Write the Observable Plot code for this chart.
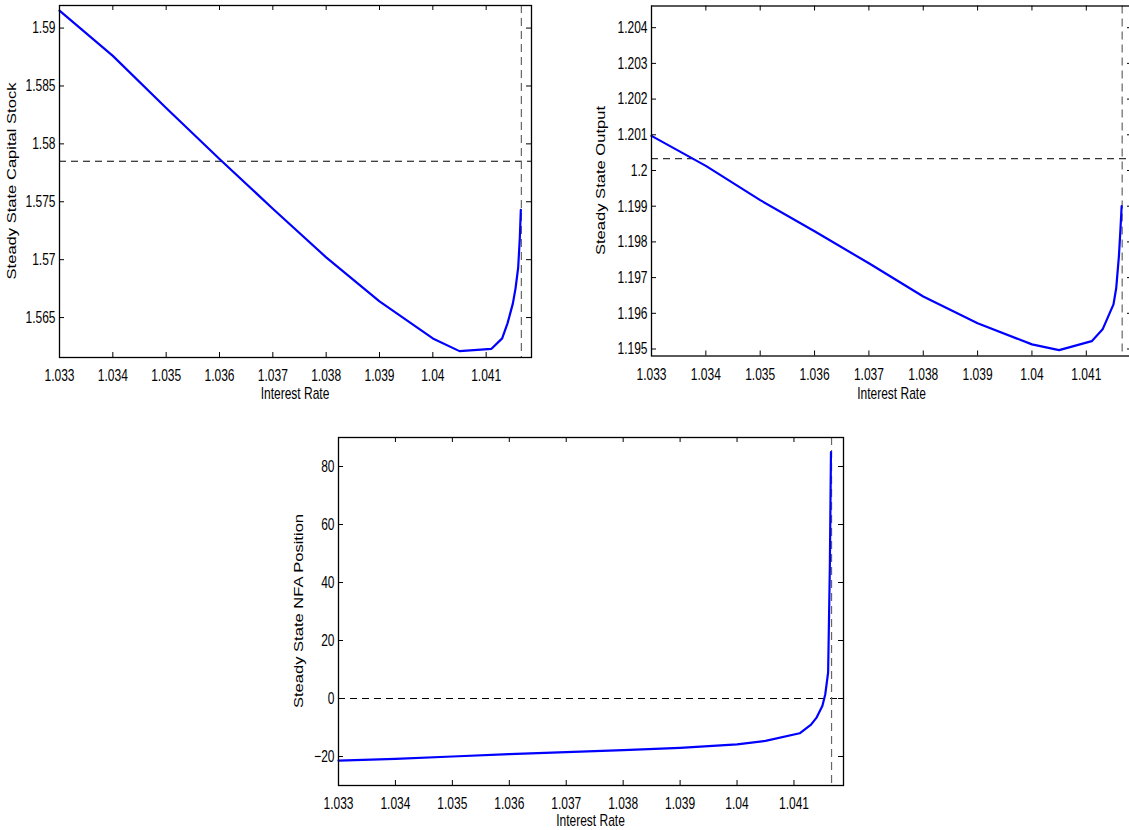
<!DOCTYPE html>
<html>
<head>
<meta charset="utf-8">
<script src="https://cdn.jsdelivr.net/npm/d3@7"></script>
<script src="https://cdn.jsdelivr.net/npm/@observablehq/plot@0.6"></script>
<style>
html, body { margin: 0; padding: 0; background: #fff; overflow: hidden; }
#fig { position: relative; width: 1129px; height: 830px; overflow: hidden; background: #fff; }
#fig svg { position: absolute; }
</style>
</head>
<body>
<div id="fig"></div>
<script>
// ---- data ----
const rates   = [1.033, 1.034, 1.035, 1.036, 1.037, 1.038, 1.039, 1.040, 1.0405, 1.0411, 1.0413, 1.0414, 1.0415, 1.04155, 1.0416, 1.04163, 1.04165];
const capital = [1.5915, 1.5876, 1.5831, 1.5787, 1.5744, 1.5702, 1.5664, 1.5632, 1.5621, 1.5623, 1.5632, 1.5645, 1.5662, 1.5675, 1.5693, 1.5718, 1.5743];
const output  = [1.20097, 1.20013, 1.19917, 1.19830, 1.19740, 1.19647, 1.19572, 1.19513, 1.19497, 1.19522, 1.19555, 1.19590, 1.19625, 1.19670, 1.19760, 1.19840, 1.19900];
const nfa     = [-21.4, -20.8, -20.0, -19.2, -18.5, -17.8, -17.0, -15.8, -14.6, -12.0, -9.0, -6.5, -2.5, 1.5, 9.0, 45, 85];

const capitalRef = 1.5785;   // horizontal dashed reference
const outputRef  = 1.20033;
const nfaRef     = 0;
const rateLimit  = 1.04166;  // vertical dashed reference

const xTicks      = [1.033, 1.034, 1.035, 1.036, 1.037, 1.038, 1.039, 1.040, 1.041];
const xTickLabels = ["1.033", "1.034", "1.035", "1.036", "1.037", "1.038", "1.039", "1.04", "1.041"];
const capTicks      = [1.565, 1.570, 1.575, 1.580, 1.585, 1.590];
const capTickLabels = ["1.565", "1.57", "1.575", "1.58", "1.585", "1.59"];
const outTicks      = [1.195, 1.196, 1.197, 1.198, 1.199, 1.200, 1.201, 1.202, 1.203, 1.204];
const outTickLabels = ["1.195", "1.196", "1.197", "1.198", "1.199", "1.2", "1.201", "1.202", "1.203", "1.204"];
const nfaTicks      = [-20, 0, 20, 40, 60, 80];
const nfaTickLabels = ["\u221220", "0", "20", "40", "60", "80"];

const xLabel = "Interest Rate";
const capLabel = "Steady State Capital Stock";
const outLabel = "Steady State Output";
const nfaLabel = "Steady State NFA Position";

const FONT = "'Liberation Sans', Arial, Helvetica, sans-serif";
const STRETCH = 1.38;
const fig = document.getElementById("fig");

function panel(o) {
  const data = rates.map((r, i) => ({r, v: o.values[i]}));
  const innerW = o.width - o.ml - o.mr;
  const innerH = o.height - o.mt - o.mb;
  const T = 5;
  const xfmt = d => xTickLabels[xTicks.indexOf(d)];
  const yfmt = d => o.yLabels[o.yTicks.indexOf(d)];
  const svg = Plot.plot({
    width: o.width, height: o.height,
    marginTop: o.mt, marginRight: o.mr, marginBottom: o.mb, marginLeft: o.ml,
    style: {fontFamily: FONT, fontSize: "12px", color: "#000", background: "transparent", overflow: "visible"},
    x: {domain: o.xDomain, nice: false},
    y: {domain: o.yDomain, nice: false},
    marks: [
      Plot.ruleY([o.ref], {stroke: "#000", strokeWidth: 1, strokeDasharray: "7,5"}),
      Plot.ruleX([rateLimit], {stroke: "#666", strokeWidth: 1.2, strokeDasharray: "8,5"}),
      Plot.lineY(data, {x: "r", y: "v", stroke: "#0000ff", strokeWidth: 2.2}),
      Plot.tickX(xTicks, {x: d => d, insetTop: innerH - T, stroke: "#000"}),
      Plot.tickX(xTicks, {x: d => d, insetBottom: innerH - T, stroke: "#000"}),
      Plot.tickY(o.yTicks, {y: d => d, insetRight: innerW - T, stroke: "#000"}),
      Plot.tickY(o.yTicks, {y: d => d, insetLeft: innerW - T, stroke: "#000"}),
      Plot.axisX({ticks: xTicks, tickFormat: xfmt, tickSize: 0, tickPadding: 12, anchor: "bottom", label: null}),
      Plot.axisY({ticks: o.yTicks, tickFormat: yfmt, tickSize: 0, tickPadding: 4, anchor: "left", label: null}),
      Plot.frame({stroke: "#000", strokeWidth: 1.3})
    ]
  });
  svg.style.left = o.left + "px";
  svg.style.top = o.top + "px";
  const s = d3.select(svg);
  // the reference's text is stretched vertically; reproduce that on the tick labels
  s.selectAll('g[aria-label="x-axis tick label"] text, g[aria-label="y-axis tick label"] text').each(function() {
    const t = d3.select(this);
    let tr = t.attr("transform");
    if (!tr) {
      const x = +t.attr("x") || 0, y = +t.attr("y") || 0;
      tr = `translate(${x},${y})`;
      t.attr("x", null).attr("y", null);
    }
    t.attr("transform", tr + ` scale(1,${STRETCH})`);
  });
  const cx = o.ml + innerW / 2;
  s.append("text")
    .attr("transform", `translate(${cx},${o.xLabelY}) scale(1,${STRETCH})`)
    .attr("text-anchor", "middle")
    .attr("font-family", FONT).attr("font-size", "12px").attr("fill", "#000")
    .text(xLabel);
  const cy = o.mt + innerH / 2;
  s.append("text")
    .attr("transform", `translate(${o.yLabelX},${cy}) scale(1,${STRETCH}) rotate(-90)`)
    .attr("text-anchor", "middle")
    .attr("font-family", FONT).attr("font-size", "12px").attr("fill", "#000")
    .text(o.ylabel);
  fig.appendChild(svg);
}

panel({
  values: capital, ref: capitalRef, ylabel: capLabel,
  yTicks: capTicks, yLabels: capTickLabels,
  xDomain: [1.033, 1.04185], yDomain: [1.56155, 1.59195],
  left: 0, top: 0, width: 560, height: 410, mt: 5, mb: 53, ml: 59, mr: 29,
  xLabelY: 399, yLabelX: 16
});
panel({
  values: output, ref: outputRef, ylabel: outLabel,
  yTicks: outTicks, yLabels: outTickLabels,
  xDomain: [1.033, 1.04185], yDomain: [1.194804, 1.204607],
  left: 570, top: 0, width: 570, height: 410, mt: 5.5, mb: 54.5, ml: 81, mr: 8,
  xLabelY: 399, yLabelX: 35
});
panel({
  values: nfa, ref: nfaRef, ylabel: nfaLabel,
  yTicks: nfaTicks, yLabels: nfaTickLabels,
  xDomain: [1.033, 1.04187], yDomain: [-30, 90],
  left: 280, top: 420, width: 600, height: 410, mt: 17, mb: 45, ml: 58, mr: 37,
  xLabelY: 406, yLabelX: 23
});
</script>
</body>
</html>
